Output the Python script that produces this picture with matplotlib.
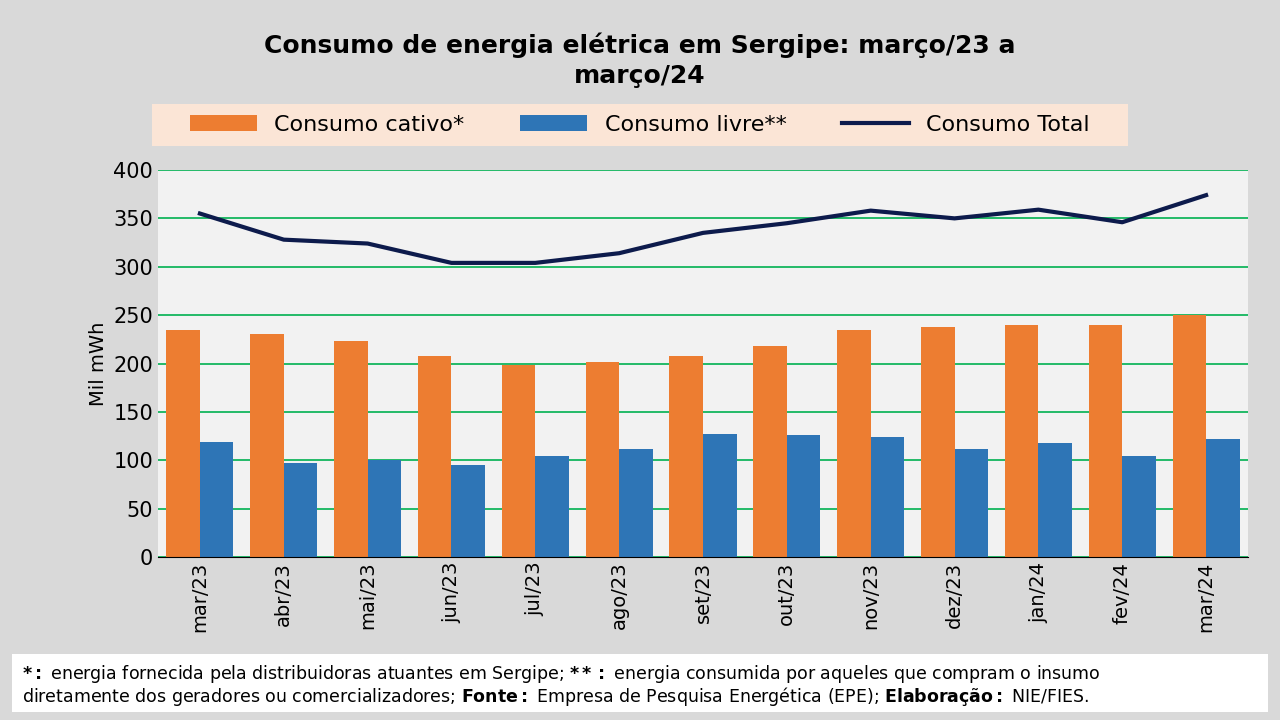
import numpy as np
import matplotlib.pyplot as plt
from matplotlib.patches import Rectangle

meses = ['mar/23', 'abr/23', 'mai/23', 'jun/23', 'jul/23', 'ago/23', 'set/23',
         'out/23', 'nov/23', 'dez/23', 'jan/24', 'fev/24', 'mar/24']
cativo = [235, 230, 223, 208, 198, 202, 208, 218, 235, 238, 240, 240, 250]
livre = [119, 97, 100, 95, 104, 112, 127, 126, 124, 112, 118, 104, 122]
total = [355, 328, 324, 304, 304, 314, 335, 345, 358, 350, 359, 346, 374]

fig = plt.figure(figsize=(12.8, 7.2), dpi=100, facecolor='#d9d9d9')
ax = fig.add_axes([158/1280, 1 - 557/720, 1090/1280, 387/720])
ax.set_facecolor('#f2f2f2')
ax.set_axisbelow(True)

x = np.arange(len(meses))
w = 0.4
b1 = ax.bar(x - w/2, cativo, w, color='#ed7d31', label='Consumo cativo*', zorder=3)
b2 = ax.bar(x + w/2, livre, w, color='#2e75b6', label='Consumo livre**', zorder=3)
l1, = ax.plot(x, total, color='#0d1b4c', lw=3, label='Consumo Total', zorder=4)

ax.set_xlim(-0.5, len(meses) - 0.5)
ax.set_ylim(0, 400)
ax.set_yticks(range(0, 401, 50))
ax.grid(axis='y', color='#00b050', lw=1.2, zorder=0)
ax.set_xticks(x)
ax.set_xticklabels(meses, rotation=90, fontsize=14)
ax.tick_params(axis='y', labelsize=15, length=0)
ax.tick_params(axis='x', length=0)
for s in ['top', 'right', 'left']:
    ax.spines[s].set_visible(False)
ax.spines['bottom'].set_color('#000000')
ax.spines['bottom'].set_zorder(5)
ax.set_ylabel('Mil mWh', fontsize=14)

fig.text(0.5, 0.955, 'Consumo de energia elétrica em Sergipe: março/23 a\nmarço/24',
         ha='center', va='top', fontsize=18, fontweight='bold', linespacing=1.3)

fig.patches.append(Rectangle((152/1280, 1 - 146/720), 976/1280, 42/720,
                             transform=fig.transFigure, facecolor='#fbe5d6',
                             edgecolor='none'))
fig.legend([b1, b2, l1], ['Consumo cativo*', 'Consumo livre**', 'Consumo Total'],
           loc='center', bbox_to_anchor=(640/1280, 1 - 125/720), ncol=3,
           frameon=False, fontsize=16, handlelength=3, columnspacing=2.5)

fig.patches.append(Rectangle((12/1280, 1 - 712/720), 1256/1280, 58/720,
                             transform=fig.transFigure, facecolor='white',
                             edgecolor='none'))
fig.text(22/1280, 1 - 674/720,
         r'$\bf{*:}$ energia fornecida pela distribuidoras atuantes em Sergipe; $\bf{**:}$ energia consumida por aqueles que compram o insumo',
         fontsize=12.5, va='center')
fig.text(22/1280, 1 - 697/720,
         r'diretamente dos geradores ou comercializadores; $\bf{Fonte:}$ Empresa de Pesquisa Energética (EPE); $\bf{Elaboração:}$ NIE/FIES.',
         fontsize=12.5, va='center')

fig.savefig('out.png', dpi=100, facecolor=fig.get_facecolor())
